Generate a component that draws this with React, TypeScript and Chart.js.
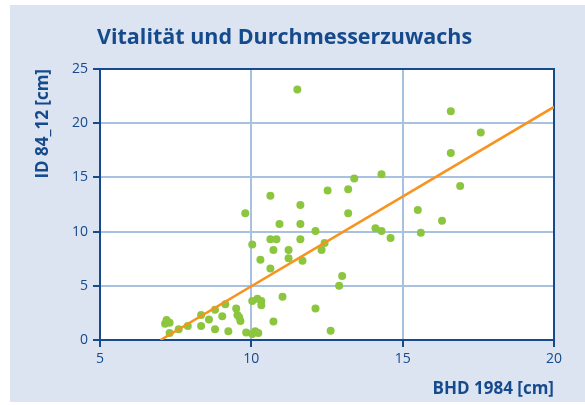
import React, { useEffect, useRef } from "react";
import { Chart, registerables } from "chart.js";

Chart.register(...registerables);

const chartTitle = "Vitalität und Durchmesserzuwachs";
const xAxisTitle = "BHD 1984 [cm]";
const yAxisTitle = "ID 84_12 [cm]";

// BHD 1984 [cm]
const bhdValues = [
  7.15, 7.2, 7.3, 7.3, 7.6, 7.9, 8.34, 8.34, 8.6, 8.8, 8.8, 9.04, 9.14, 9.24, 9.5, 9.54, 9.6, 9.64,
  9.83, 9.8, 10.03, 10.03, 10.03, 10.13, 10.23, 10.3, 10.2, 10.33, 10.33, 11.62, 13.2, 10.93, 11.62,
  12.12, 14.1, 14.3, 14.6, 10.63, 10.83, 11.62, 12.42, 12.32, 10.73, 11.23, 11.23, 11.69, 10.63,
  13.0, 12.9, 11.03, 12.12, 10.73, 12.62, 11.52, 10.63, 12.52, 13.2, 13.4, 14.3, 16.59, 17.58,
  16.59, 16.9, 15.5, 16.3, 15.6,
];
// ID 84_12 [cm]
const idValues = [
  1.5, 1.85, 1.6, 0.65, 1.0, 1.3, 2.3, 1.3, 1.9, 2.8, 1.0, 2.2, 3.3, 0.8, 2.9, 2.3, 2.1, 1.75,
  0.7, 11.7, 8.8, 3.6, 0.55, 0.8, 0.65, 7.4, 3.8, 3.6, 3.2, 12.45, 11.7, 10.7, 10.7,
  10.05, 10.3, 10.05, 9.4, 9.3, 9.3, 9.3, 8.95, 8.3, 8.3, 8.3, 7.55, 7.3, 6.6,
  5.9, 5.0, 4.0, 2.9, 1.7, 0.85, 23.1, 13.3, 13.8, 13.9, 14.9, 15.3, 21.1, 19.15,
  17.25, 14.2, 12.0, 11.0, 9.9,
];
// regression line end points
const trendX = [7.0, 20];
const trendY = [0, 21.5];

const xTicks = [5, 10, 15, 20];
const yTicks = [0, 5, 10, 15, 20, 25];

const DARK = "#154a8c";
const GRID = "#a9c1e1";
const PANEL = "#dce3f1";
const GREEN = "#8cc63f";
const ORANGE = "#f7931e";
const FONT = "'Open Sans', 'Noto Sans', sans-serif";

const backgroundPlugin = {
  id: "panelBg",
  beforeDraw(chart: any) {
    const { ctx, chartArea } = chart;
    ctx.save();
    ctx.fillStyle = PANEL;
    ctx.fillRect(10, 5, 575, 397);
    ctx.fillStyle = "#ffffff";
    ctx.fillRect(chartArea.left, chartArea.top, chartArea.right - chartArea.left, chartArea.bottom - chartArea.top);
    ctx.fillStyle = DARK;
    ctx.font = `bold 21.5px ${FONT}`;
    ctx.textBaseline = "middle";
    ctx.textAlign = "left";
    ctx.fillText(chartTitle, 97, 38);
    ctx.restore();
  },
  beforeDatasetsDraw(chart: any) {
    const { ctx, chartArea } = chart;
    ctx.save();
    ctx.strokeStyle = DARK;
    ctx.lineWidth = 2;
    ctx.beginPath();
    ctx.moveTo(chartArea.left, chartArea.top);
    ctx.lineTo(chartArea.right, chartArea.top);
    ctx.lineTo(chartArea.right, chartArea.bottom);
    ctx.stroke();
    ctx.restore();
  },
};

export default function App() {
  const ref = useRef<HTMLCanvasElement | null>(null);
  useEffect(() => {
    if (!ref.current) return;
    const points = bhdValues.map((x, i) => ({ x, y: idValues[i] }));
    const line = trendX.map((x, i) => ({ x, y: trendY[i] }));
    const chart = new Chart(ref.current, {
      type: "scatter",
      data: {
        datasets: [
          {
            type: "line",
            data: line,
            borderColor: ORANGE,
            borderWidth: 2.5,
            pointRadius: 0,
            fill: false,
            order: 1,
          } as any,
          {
            data: points,
            backgroundColor: GREEN,
            borderColor: GREEN,
            borderWidth: 0,
            pointRadius: 4,
            order: 2,
          },
        ],
      },
      options: {
        animation: false,
        responsive: false,
        layout: { padding: { top: 69, right: 31, left: 0, bottom: 0 } },
        plugins: {
          legend: { display: false },
          tooltip: { enabled: false },
          title: { display: false },
        },
        scales: {
          x: {
            type: "linear",
            min: 5,
            max: 20,
            afterBuildTicks: (s: any) => {
              s.ticks = xTicks.map((v) => ({ value: v }));
            },
            afterFit: (s: any) => {
              s.height = 65;
            },
            ticks: { color: DARK, font: { family: FONT, size: 14 }, padding: 4 },
            grid: { color: GRID, lineWidth: 2, tickColor: DARK, tickLength: 7, tickWidth: 2 },
            border: { display: true, color: DARK, width: 2 },
            title: {
              display: true,
              text: xAxisTitle,
              align: "end",
              color: DARK,
              font: { family: FONT, size: 17, weight: "bold" },
              padding: { top: 0, bottom: 6 },
            },
          },
          y: {
            type: "linear",
            min: 0,
            max: 25,
            afterBuildTicks: (s: any) => {
              s.ticks = yTicks.map((v) => ({ value: v }));
            },
            afterFit: (s: any) => {
              s.width = 100;
            },
            ticks: { color: DARK, font: { family: FONT, size: 14 }, padding: 5 },
            grid: { color: GRID, lineWidth: 2, tickColor: DARK, tickLength: 7, tickWidth: 2 },
            border: { display: true, color: DARK, width: 2 },
            title: {
              display: true,
              text: yAxisTitle,
              align: "end",
              color: DARK,
              font: { family: FONT, size: 17, weight: "bold" },
              padding: { top: 33, bottom: 0 },
            },
          },
        },
      },
      plugins: [backgroundPlugin],
    });
    return () => chart.destroy();
  }, []);
  return (
    <div style={{ position: "absolute", left: 0, top: 0, width: 585, height: 405 }}>
      <canvas ref={ref} width={585} height={405} style={{ display: "block" }} />
    </div>
  );
}
